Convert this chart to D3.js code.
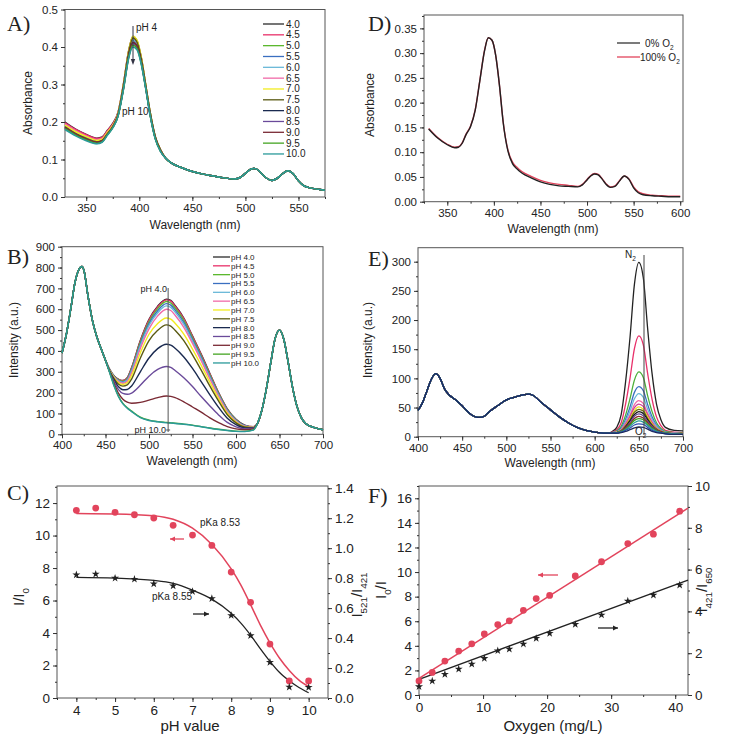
<!DOCTYPE html>
<html>
<head>
<meta charset="utf-8">
<script src="https://cdn.jsdelivr.net/npm/d3@7"></script>
<style>
body{margin:0;background:#fff}
svg{display:block;font-family:"Liberation Sans",Arial,sans-serif}
.tick text{fill:#222}
.domain,.tick line{stroke:#333}
.plab{font-family:"Liberation Serif","Times New Roman",serif;font-size:22px;fill:#222}
</style>
</head>
<body>
<svg width="729" height="740"></svg>
<script>
// ---------- data ----------
var phLabels = ["4.0","4.5","5.0","5.5","6.0","6.5","7.0","7.5","8.0","8.5","9.0","9.5","10.0"];
var phColors = ["#2a2a2a","#e8306a","#5cb82e","#3a6fc0","#6ab8d8","#f06aa8","#f2ec1e","#5a5a12","#1a2a50","#6a4a9a","#7a2a34","#44a422","#2a9a9a"];

// A) absorbance vs pH
var aHeadX = [330,340,350,360,365,370,375,380,385,390,394,398,402,406,410,415,420];
var aHead = [
  [0.200,0.181,0.167,0.157,0.160,0.178,0.196,0.226,0.300,0.390,0.428,0.416,0.370,0.300,0.230,0.162,0.126],
  [0.198,0.180,0.166,0.156,0.159,0.177,0.195,0.225,0.299,0.388,0.426,0.414,0.368,0.299,0.229,0.161,0.126],
  [0.190,0.172,0.159,0.150,0.153,0.171,0.190,0.220,0.296,0.386,0.425,0.413,0.367,0.298,0.228,0.160,0.125],
  [0.185,0.168,0.155,0.146,0.150,0.168,0.187,0.218,0.292,0.380,0.418,0.406,0.362,0.295,0.226,0.159,0.124],
  [0.188,0.170,0.157,0.148,0.151,0.170,0.188,0.219,0.293,0.382,0.420,0.408,0.364,0.296,0.227,0.159,0.124],
  [0.195,0.177,0.163,0.153,0.156,0.174,0.192,0.222,0.297,0.387,0.424,0.412,0.367,0.298,0.228,0.160,0.125],
  [0.192,0.174,0.161,0.151,0.154,0.173,0.191,0.223,0.298,0.389,0.429,0.417,0.371,0.301,0.230,0.161,0.126],
  [0.187,0.169,0.156,0.147,0.151,0.169,0.188,0.220,0.295,0.385,0.424,0.412,0.366,0.298,0.228,0.160,0.125],
  [0.183,0.166,0.153,0.144,0.148,0.167,0.186,0.217,0.289,0.376,0.412,0.401,0.358,0.293,0.224,0.158,0.123],
  [0.184,0.167,0.154,0.145,0.149,0.167,0.186,0.217,0.288,0.374,0.409,0.398,0.356,0.292,0.223,0.157,0.123],
  [0.186,0.168,0.155,0.146,0.150,0.168,0.187,0.218,0.290,0.377,0.413,0.402,0.359,0.293,0.224,0.158,0.123],
  [0.182,0.165,0.152,0.143,0.147,0.166,0.185,0.216,0.286,0.372,0.405,0.395,0.354,0.291,0.222,0.156,0.122],
  [0.180,0.163,0.150,0.142,0.146,0.165,0.184,0.215,0.285,0.370,0.400,0.392,0.352,0.290,0.221,0.155,0.121]
];
var aTailX = [425,430,440,450,460,470,480,490,495,500,505,508,512,516,520,525,530,535,540,545,550,555,560,570,575];
var aTail = [0.103,0.091,0.078,0.068,0.061,0.056,0.051,0.048,0.052,0.063,0.074,0.076,0.072,0.060,0.050,0.044,0.050,0.062,0.070,0.062,0.043,0.030,0.025,0.020,0.018];

// B) emission vs pH
var bHeadX = [400,405,410,415,420,423,425,430,435,440,445,450];
var bHead = [390,480,600,730,795,805,790,660,545,468,410,355];
var bMidX = [455,460,465,470,475,480,490,500,510,520,525,530,540,550,560,570,580,590,600,610,620];
var bMid = [
  [310,280,264,258,272,320,450,552,615,648,642,618,558,472,385,292,200,122,72,44,36],
  [309,279,263,257,270,318,447,548,611,645,639,615,555,469,382,289,198,120,70,43,36],
  [308,278,261,254,267,313,440,540,603,637,630,606,547,462,376,284,195,118,69,42,35],
  [307,276,258,251,263,308,432,531,593,627,620,596,537,454,369,278,191,115,67,41,35],
  [306,275,256,249,260,303,425,522,583,616,609,586,527,446,362,272,187,112,65,40,34],
  [305,273,253,245,255,295,412,506,568,600,594,571,513,436,353,265,182,108,63,39,34],
  [304,270,247,239,247,282,390,480,532,558,553,533,481,409,331,249,171,101,59,37,33],
  [302,266,240,231,237,265,365,449,499,525,519,499,449,381,308,231,159,94,55,35,32],
  [300,260,228,214,215,232,300,366,411,432,428,413,371,316,253,189,129,77,46,31,31],
  [298,252,214,196,192,198,235,279,311,325,321,306,271,229,181,136,93,57,36,27,29],
  [296,242,196,168,154,149,153,164,176,184,182,176,156,131,106,79,56,37,26,22,26],
  [294,232,182,148,127,111,82,68,61,57,55,53,49,44,37,30,24,19,15,14,21],
  [293,230,180,146,125,109,80,66,60,55,54,52,48,43,36,29,23,18,14,13,20]
];
var bTailX = [625,630,635,640,645,650,655,660,665,670,675,680,690,700];
var bTail = [55,120,220,345,460,500,455,345,225,135,80,52,32,22];

// C) titration
var cPh = [4,4.5,5,5.5,6,6.5,7,7.5,8,8.5,9,9.5,10];
var cRatioLeft = [11.55,11.69,11.43,11.28,11.08,10.63,10.03,9.39,7.75,5.89,3.32,1.05,1.05];
var cRatioRight = [0.822,0.827,0.800,0.793,0.762,0.749,0.711,0.664,0.551,0.416,0.238,0.073,0.071];
var cFitX = [4,5,6,6.5,7,7.5,8,8.25,8.5,8.75,9,9.25,9.5,9.75,10];
var cFitLeft = [11.35,11.33,11.22,11.0,10.45,9.45,7.95,6.95,5.75,4.5,3.4,2.45,1.7,1.1,0.7];
var cFitRight = [0.805,0.800,0.785,0.765,0.720,0.660,0.565,0.500,0.420,0.330,0.245,0.170,0.115,0.070,0.035];

// D) absorbance vs O2
var dX = [330,340,350,358,362,366,370,375,380,385,390,394,398,402,406,410,415,420,425,430,440,450,460,470,480,490,495,500,504,508,512,516,520,525,530,535,540,545,550,555,560,570,580,590,600];
var dZero = [0.147,0.128,0.115,0.109,0.110,0.118,0.135,0.152,0.185,0.245,0.305,0.331,0.326,0.295,0.235,0.160,0.103,0.077,0.066,0.058,0.048,0.040,0.035,0.032,0.031,0.030,0.034,0.044,0.052,0.056,0.054,0.046,0.036,0.029,0.031,0.042,0.052,0.045,0.028,0.018,0.014,0.012,0.011,0.010,0.010];
var dFull = [0.148,0.129,0.116,0.110,0.111,0.119,0.136,0.153,0.186,0.246,0.306,0.331,0.326,0.295,0.235,0.161,0.105,0.080,0.069,0.061,0.051,0.043,0.038,0.035,0.033,0.031,0.035,0.045,0.053,0.057,0.055,0.047,0.037,0.030,0.032,0.043,0.052,0.046,0.030,0.020,0.016,0.013,0.012,0.011,0.011];
var dLegend = [["0% O","2"],["100% O","2"]];

// E) emission vs O2
var eHeadX = [400,405,410,415,420,425,430,435,440,445,450,455,460,465,470,475,480,490,500,510,520,525,530,540,550,560,570,580,590,600,610];
var eHead = [45,58,78,98,108,100,82,72,66,60,53,45,38,34,33,35,42,53,63,68,72,73,71,58,46,34,24,16,11,8,6];
var ePeakX = [615,620,625,630,635,640,645,650,655,660,665,670,675,680,690,700];
var ePeaks = [
  [6,9,16,38,94,170,261,299,273,185,108,56,29,16,11,10],
  [6,8,12,24,56,100,151,173,158,108,64,34,19,11,8,7],
  [6,7,10,18,37,65,97,111,102,70,43,24,14,9,7,6],
  [6,7,9,15,30,51,76,86,79,55,34,20,12,8,6,5],
  [6,7,8,13,26,44,65,74,68,47,30,18,11,8,6,5],
  [6,7,8,12,23,37,55,62,57,40,26,15,10,7,6,5],
  [6,6,8,11,21,34,50,56,52,37,24,15,10,7,5,5],
  [6,6,8,11,19,31,45,51,47,34,22,14,9,7,5,5],
  [6,6,7,10,18,29,42,47,44,31,20,13,9,7,5,4],
  [6,6,7,10,17,27,38,43,40,29,19,12,8,6,5,4],
  [6,6,7,10,16,24,35,39,36,26,18,12,8,6,5,4],
  [6,6,7,9,15,22,31,35,32,24,16,11,8,6,5,4],
  [6,6,7,9,13,20,28,31,29,21,15,10,7,6,5,4],
  [6,6,7,8,12,18,24,27,25,19,13,9,7,6,5,4],
  [6,6,6,8,11,15,20,22,21,16,11,8,7,5,4,4],
  [6,6,6,7,9,12,15,17,16,13,9,7,6,5,4,4]
];
var eColors = ["#222222","#e8306a","#4caf3a","#3a6fc0","#6ab8d8","#f06aa8","#d0409a","#f0e020","#6a6a10","#1a1a1a","#6a4a9a","#8a2a2a","#40a020","#2a9a9a","#3050b0","#1a2a60"];

// F) Stern-Volmer
var fO2 = [0,2.07,4.04,6.2,8.24,10.2,12.3,14.1,16.3,18.3,20.4,24.4,28.5,32.6,36.6,40.7];
var fLeft = [1.14,1.84,2.76,3.57,4.16,4.97,5.73,6.03,6.89,7.84,8.10,9.68,10.84,12.32,13.08,14.95];
var fRight = [0.40,0.67,0.99,1.24,1.48,1.75,2.12,2.20,2.44,2.71,2.95,3.38,3.83,4.50,4.78,5.26];
var fLineX = [0,42];
var fLineLeft = [1.35,15.2];
var fLineRight = [0.75,5.5];

var red = "#e2445c";

// ---------- helpers ----------
var svg = d3.select("svg");

function addText(g, x, y, parts, size, rotate, anchor) {
  var t = g.append("text").attr("x", x).attr("y", y)
    .attr("font-size", size).attr("fill", "#222")
    .attr("text-anchor", anchor || "middle");
  if (rotate) t.attr("transform", "rotate(-90," + x + "," + y + ")");
  parts.forEach(function(p, i) {
    var s = t.append("tspan").text(p);
    if (i % 2 == 1) s.attr("font-size", size * 0.65).attr("dy", size * 0.3);
    else if (i > 0) s.attr("dy", -size * 0.3);
  });
  return t;
}

function styleAxis(sel, size) {
  sel.attr("font-family", null).attr("font-size", size);
}

function panel(o) {
  var g = svg.append("g");
  var x = d3.scaleLinear().domain(o.xd).range([o.l, o.r]);
  var y = d3.scaleLinear().domain(o.yd).range([o.b, o.t]);
  g.append("rect").attr("x", o.l).attr("y", o.t)
    .attr("width", o.r - o.l).attr("height", o.b - o.t)
    .attr("fill", "none").attr("stroke", "#555");
  g.append("g").attr("transform", "translate(0," + o.b + ")")
    .call(d3.axisBottom(x).tickValues(o.xm).tickSize(2).tickFormat(""));
  g.append("g").attr("transform", "translate(0," + o.b + ")")
    .call(d3.axisBottom(x).tickValues(o.xt).tickSize(4).tickPadding(3).tickFormat(o.xf))
    .call(styleAxis, o.fs);
  g.append("g").attr("transform", "translate(" + o.l + ",0)")
    .call(d3.axisLeft(y).tickValues(o.ym).tickSize(2).tickFormat(""));
  g.append("g").attr("transform", "translate(" + o.l + ",0)")
    .call(d3.axisLeft(y).tickValues(o.yt).tickSize(4).tickPadding(3).tickFormat(o.yf))
    .call(styleAxis, o.fs);
  g.selectAll(".domain").remove();
  g.append("text").attr("class", "plab").attr("x", o.lab[0]).attr("y", o.lab[1]).text(o.lab[2]);
  return {g: g, x: x, y: y};
}

function spectrum(p, xs, ys, color, w) {
  var line = d3.line().x(function(d) { return p.x(d[0]); }).y(function(d) { return p.y(d[1]); })
    .curve(d3.curveMonotoneX);
  p.g.append("path").datum(d3.zip(xs, ys)).attr("d", line)
    .attr("fill", "none").attr("stroke", color).attr("stroke-width", w || 1.4);
}

function arrow(g, x1, x2, y, color) {
  var dir = x2 > x1 ? 1 : -1;
  g.append("line").attr("x1", x1).attr("x2", x2).attr("y1", y).attr("y2", y)
    .attr("stroke", color).attr("stroke-width", 1.3);
  g.append("path").attr("d", "M" + x2 + "," + y + "l" + (-5 * dir) + ",-2.5l0,5z").attr("fill", color);
}

// ---------- A ----------
var A = panel({l: 65, r: 325, t: 9.5, b: 197, xd: [330, 575], yd: [0, 0.5],
  xt: [350, 400, 450, 500, 550], xm: d3.range(350, 576, 25), xf: d3.format("d"),
  yt: d3.range(0, 0.51, 0.1), ym: d3.range(0, 0.51, 0.05), yf: d3.format(".1f"),
  fs: 11.5, lab: [7, 31, "A)"]});
aHead.forEach(function(h, i) { spectrum(A, aHeadX.concat(aTailX), h.concat(aTail), phColors[i], 1.5); });
addText(A.g, 32, 103, ["Absorbance"], 12, true);
addText(A.g, 195, 229, ["Wavelength (nm)"], 12);
A.g.append("line").attr("x1", 133).attr("x2", 133).attr("y1", 26).attr("y2", 62).attr("stroke", "#334").attr("stroke-width", 1);
A.g.append("path").attr("d", "M133,65l-2.2,-6l4.4,0z").attr("fill", "#334");
addText(A.g, 136, 31, ["pH 4"], 10, false, "start");
addText(A.g, 122, 115, ["pH 10"], 10, false, "start");
phLabels.forEach(function(p, i) {
  var yy = 24 + i * 10.83;
  A.g.append("line").attr("x1", 263).attr("x2", 284).attr("y1", yy).attr("y2", yy).attr("stroke", phColors[i]).attr("stroke-width", 1.3);
  addText(A.g, 286, yy + 3.5, [p], 10, false, "start");
});

// ---------- B ----------
var B = panel({l: 62, r: 323, t: 246.7, b: 434.3, xd: [400, 700], yd: [0, 900],
  xt: d3.range(400, 701, 50), xm: d3.range(400, 701, 25), xf: d3.format("d"),
  yt: d3.range(0, 901, 100), ym: d3.range(0, 901, 50), yf: d3.format("d"),
  fs: 11.5, lab: [7, 264, "B)"]});
bMid.forEach(function(m, i) {
  spectrum(B, bHeadX.concat(bMidX, bTailX), bHead.concat(m, bTail), phColors[i], 1.4);
});
addText(B.g, 18, 340, ["Intensity (a.u.)"], 12, true);
addText(B.g, 192, 465, ["Wavelength (nm)"], 12);
B.g.append("line").attr("x1", B.x(522)).attr("x2", B.x(522)).attr("y1", 288).attr("y2", 432).attr("stroke", "#555").attr("stroke-width", 1);
B.g.append("line").attr("x1", B.x(522) - 2).attr("x2", B.x(522) + 2).attr("y1", 430).attr("y2", 430).attr("stroke", "#555");
addText(B.g, 167, 292, ["pH 4.0"], 9, false, "end");
addText(B.g, 166, 433, ["pH 10.0"], 9, false, "end");
phLabels.forEach(function(p, i) {
  var yy = 257 + i * 8.83;
  B.g.append("line").attr("x1", 213).attr("x2", 230).attr("y1", yy).attr("y2", yy).attr("stroke", phColors[i]).attr("stroke-width", 1.3);
  addText(B.g, 231, yy + 3, ["pH " + p], 8, false, "start");
});

// ---------- C ----------
var C = panel({l: 57, r: 328, t: 486, b: 698, xd: [3.5, 10.5], yd: [0, 13.05],
  xt: d3.range(4, 11, 1), xm: d3.range(3.5, 10.6, 0.5), xf: d3.format("d"),
  yt: d3.range(0, 13, 2), ym: d3.range(0, 13.1, 1), yf: d3.format("d"),
  fs: 13.5, lab: [7, 500, "C)"]});
var cYR = d3.scaleLinear().domain([0, 1.415]).range([698, 486]);
C.g.append("g").attr("transform", "translate(328,0)")
  .call(d3.axisRight(cYR).tickValues(d3.range(0, 1.41, 0.1)).tickSize(2).tickFormat(""));
C.g.append("g").attr("transform", "translate(328,0)")
  .call(d3.axisRight(cYR).tickValues(d3.range(0, 1.41, 0.2)).tickSize(4).tickPadding(3).tickFormat(d3.format(".1f")))
  .call(styleAxis, 13.5);
C.g.selectAll(".domain").remove();
var cLine = d3.line().curve(d3.curveMonotoneX);
C.g.append("path").datum(d3.zip(cFitX.map(C.x), cFitLeft.map(C.y))).attr("d", cLine)
  .attr("fill", "none").attr("stroke", red).attr("stroke-width", 1.5);
C.g.append("path").datum(d3.zip(cFitX.map(C.x), cFitRight.map(cYR))).attr("d", cLine)
  .attr("fill", "none").attr("stroke", "#222").attr("stroke-width", 1.3);
C.g.selectAll(".dotC").data(d3.zip(cPh, cRatioLeft)).enter().append("circle")
  .attr("cx", function(d) { return C.x(d[0]); }).attr("cy", function(d) { return C.y(d[1]); })
  .attr("r", 3.4).attr("fill", red);
C.g.selectAll(".starC").data(d3.zip(cPh, cRatioRight)).enter().append("path")
  .attr("d", d3.symbol(d3.symbolStar, 20))
  .attr("transform", function(d) { return "translate(" + C.x(d[0]) + "," + cYR(d[1]) + ")"; })
  .attr("fill", "#222");
addText(C.g, 24, 597, ["I/I", "0"], 15, true);
addText(C.g, 362, 595, ["I", "521", "/I", "421"], 15, true);
addText(C.g, 190, 731, ["pH value"], 15);
addText(C.g, 200, 526, ["pKa 8.53"], 10, false, "start");
addText(C.g, 152, 600, ["pKa 8.55"], 10, false, "start");
arrow(C.g, 184, 170, 539, red);
arrow(C.g, 193, 209, 614, "#222");

// ---------- D ----------
var D = panel({l: 424, r: 683, t: 15, b: 201.7, xd: [325, 603], yd: [0, 0.377],
  xt: d3.range(350, 601, 50), xm: d3.range(325, 601, 25), xf: d3.format("d"),
  yt: d3.range(0, 0.351, 0.05), ym: d3.range(0, 0.376, 0.025), yf: d3.format(".2f"),
  fs: 11.5, lab: [368, 31, "D)"]});
spectrum(D, dX, dFull, red, 1.4);
spectrum(D, dX, dZero, "#222", 1.4);
addText(D.g, 374, 105, ["Absorbance"], 12, true);
addText(D.g, 553, 233, ["Wavelength (nm)"], 12);
[["#333", 645, 43], [red, 640, 57]].forEach(function(l, i) {
  D.g.append("line").attr("x1", 617).attr("x2", 640).attr("y1", l[2]).attr("y2", l[2]).attr("stroke", l[0]).attr("stroke-width", 1.3);
  addText(D.g, l[1], l[2] + 3.5, dLegend[i], 10, false, "start");
});

// ---------- E ----------
var E = panel({l: 418, r: 683, t: 247.7, b: 436.7, xd: [400, 700], yd: [0, 324],
  xt: d3.range(400, 701, 50), xm: d3.range(400, 701, 25), xf: d3.format("d"),
  yt: d3.range(0, 301, 50), ym: d3.range(0, 324, 25), yf: d3.format("d"),
  fs: 11.5, lab: [368, 266, "E)"]});
ePeaks.forEach(function(pk, i) {
  spectrum(E, eHeadX.concat(ePeakX), eHead.concat(pk), eColors[i], 1.3);
});
addText(E.g, 372, 340, ["Intensity (a.u.)"], 12, true);
addText(E.g, 550, 467, ["Wavelength (nm)"], 12);
E.g.append("line").attr("x1", 644).attr("x2", 644).attr("y1", 255).attr("y2", 435).attr("stroke", "#444").attr("stroke-width", 1);
addText(E.g, 625, 258, ["N", "2"], 10, false, "start");
addText(E.g, 635, 435, ["O", "2"], 10, false, "start");

// ---------- F ----------
var F = panel({l: 419, r: 688, t: 486, b: 695, xd: [0, 42], yd: [0, 17],
  xt: d3.range(0, 41, 10), xm: d3.range(0, 42, 5), xf: d3.format("d"),
  yt: d3.range(0, 17, 2), ym: d3.range(0, 17.1, 1), yf: d3.format("d"),
  fs: 13.5, lab: [368, 503, "F)"]});
var fYR = d3.scaleLinear().domain([0, 10]).range([695, 486]);
F.g.append("g").attr("transform", "translate(688,0)")
  .call(d3.axisRight(fYR).tickValues(d3.range(0, 10.1, 1)).tickSize(2).tickFormat(""));
F.g.append("g").attr("transform", "translate(688,0)")
  .call(d3.axisRight(fYR).tickValues(d3.range(0, 10.1, 2)).tickSize(4).tickPadding(3).tickFormat(d3.format("d")))
  .call(styleAxis, 13.5);
F.g.selectAll(".domain").remove();
F.g.append("path").datum(d3.zip(fLineX.map(F.x), fLineLeft.map(F.y))).attr("d", d3.line())
  .attr("stroke", red).attr("stroke-width", 1.5);
F.g.append("path").datum(d3.zip(fLineX.map(F.x), fLineRight.map(fYR))).attr("d", d3.line())
  .attr("stroke", "#222").attr("stroke-width", 1.3);
F.g.selectAll(".dotF").data(d3.zip(fO2, fLeft)).enter().append("circle")
  .attr("cx", function(d) { return F.x(d[0]); }).attr("cy", function(d) { return F.y(d[1]); })
  .attr("r", 3.4).attr("fill", red);
F.g.selectAll(".starF").data(d3.zip(fO2, fRight)).enter().append("path")
  .attr("d", d3.symbol(d3.symbolStar, 20))
  .attr("transform", function(d) { return "translate(" + F.x(d[0]) + "," + fYR(d[1]) + ")"; })
  .attr("fill", "#222");
addText(F.g, 386, 590, ["I", "0", "/I"], 15, true);
addText(F.g, 707, 590, ["I", "421", "/I", "650"], 15, true);
addText(F.g, 553, 731, ["Oxygen (mg/L)"], 15);
arrow(F.g, 558, 538, 575, red);
arrow(F.g, 598, 618, 628, "#222");
</script>
</body>
</html>
